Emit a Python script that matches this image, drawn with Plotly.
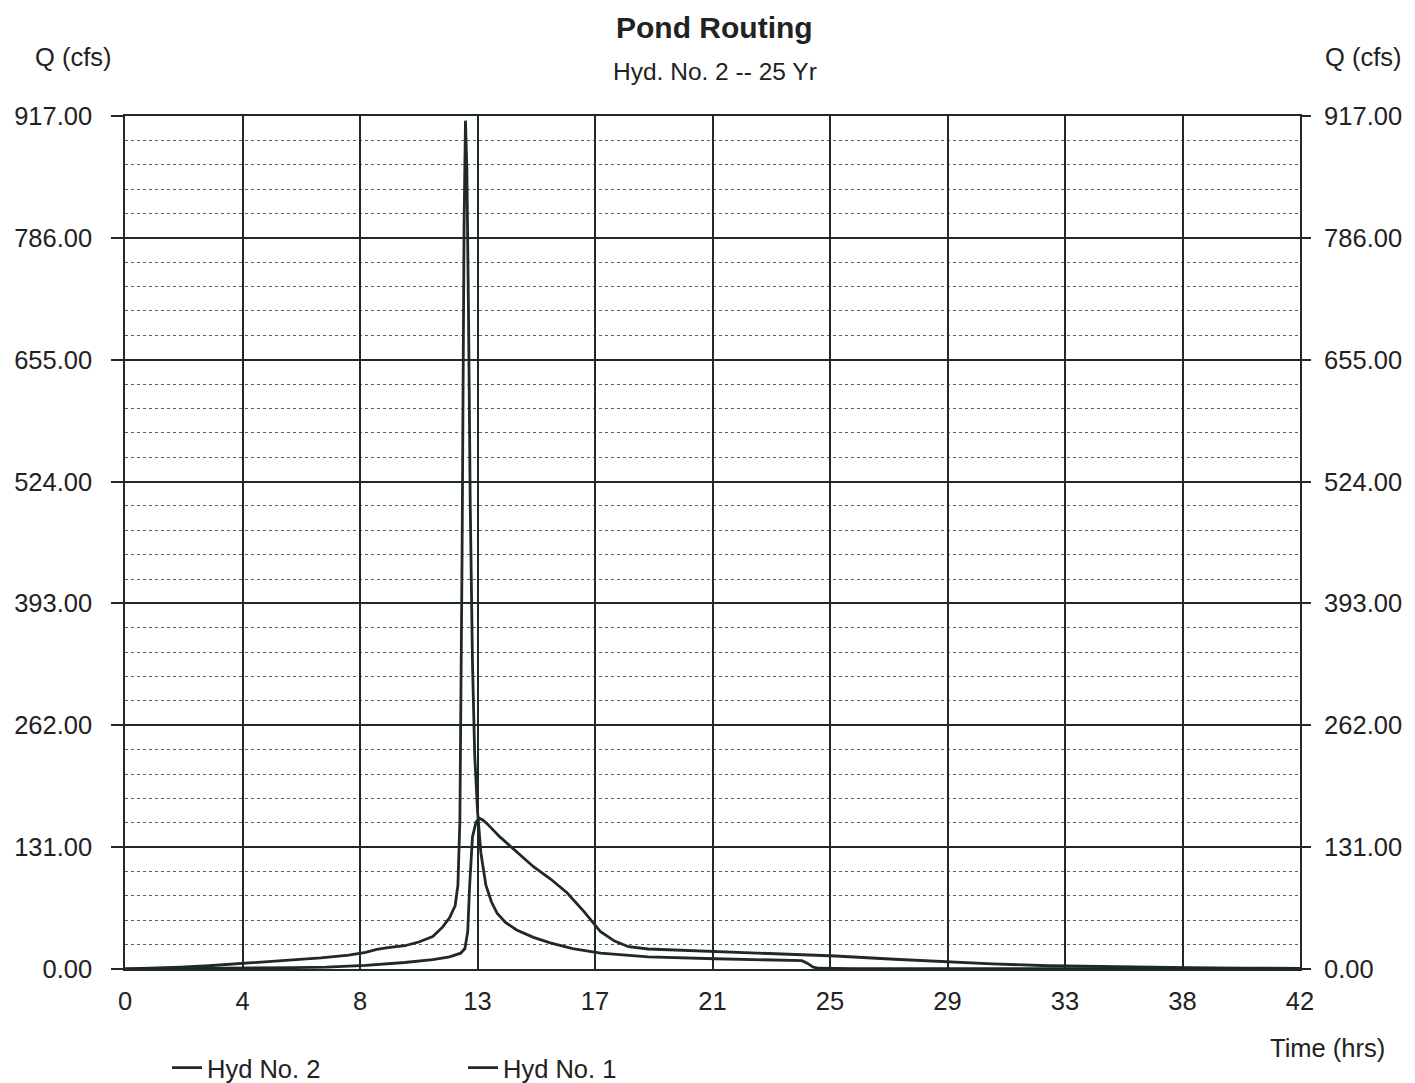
import plotly.graph_objects as go

# ---------------- data ----------------
x_tick_vals = [0, 4.2, 8.4, 12.6, 16.8, 21.0, 25.2, 29.4, 33.6, 37.8, 42.0]
x_tick_text = ["0", "4", "8", "13", "17", "21", "25", "29", "33", "38", "42"]
y_tick_vals = [0, 131, 262, 393, 524, 655, 786, 917]
y_tick_text = ["0.00", "131.00", "262.00", "393.00", "524.00", "655.00", "786.00", "917.00"]

# Hyd No. 1 (inflow)
hyd1_t = [0, 1, 2, 3, 4, 5, 6, 7, 8, 8.6, 9.0, 9.4, 10.0, 10.5, 11.0, 11.35, 11.6, 11.8,
          11.9, 11.97, 12.05, 12.12, 12.17, 12.22, 12.28, 12.34, 12.42, 12.5, 12.6, 12.72,
          12.9, 13.1, 13.3, 13.6, 14.0, 14.6, 15.2, 16.0, 17.0, 18.7, 21.1, 23.0, 24.2,
          24.4, 24.6, 24.8, 26, 30, 34, 38, 42]
hyd1_q = [0, 0.8, 2, 3.5, 5.5, 7.5, 9.5, 12, 15, 18, 21, 23, 25, 29, 35, 45, 55, 68,
          90, 160, 450, 800, 912, 860, 700, 500, 330, 230, 170, 125,
          90, 72, 60, 50, 42, 34, 28, 22, 17, 13, 11, 10, 9,
          6, 2, 0.8, 0.5, 0.4, 0.3, 0.2, 0.1]

# Hyd No. 2 (pond outflow)
hyd2_t = [0, 2, 4, 6, 7.2, 8.6, 10, 11, 11.6, 12.0, 12.15, 12.25, 12.32, 12.42, 12.55,
          12.67, 12.8, 12.95, 13.4, 14.0, 14.6, 15.2, 15.8, 16.4, 17.0, 17.5, 18.0, 18.7,
          20, 21.1, 23.5, 25.4, 27.5, 29.4, 31, 33, 35, 38, 40, 42]
hyd2_q = [0, 0.3, 0.8, 1.5, 2, 4, 7, 10, 13, 17, 22, 40, 90, 142, 158,
          162, 160, 156, 142, 126, 110, 97, 82, 62, 40, 30, 24, 21.5,
          20, 19, 16, 14, 10.5, 7.5, 5.5, 3.5, 2.5, 1.5, 1, 0.7]

# ---------------- figure ----------------
INK = "#1f2a24"
TXT = "#222222"
FONT = "Liberation Sans, Arial, sans-serif"
FS = 25.5

OFF = 8                      # page body margin of the html page
W, H = 1415 - OFF, 1083 - OFF
# target plot area in screenshot pixels
X0, X1, Y0, Y1 = 125, 1300, 116, 969
L, R, T, B = X0 - OFF, W - (X1 - OFF), Y0 - OFF, H - (Y1 - OFF)
pw, ph = X1 - X0, Y1 - Y0

def px(xs):
    return (xs - X0) / pw

def py(ys):
    return (Y1 - ys) / ph

fig = go.Figure()
fig.add_trace(go.Scatter(x=hyd2_t, y=hyd2_q, mode="lines", name="Hyd No. 2",
                         line=dict(color=INK, width=2.8)))
fig.add_trace(go.Scatter(x=hyd1_t, y=hyd1_q, mode="lines", name="Hyd No. 1",
                         line=dict(color=INK, width=2.8)))
# mirror axis on the right
fig.add_trace(go.Scatter(x=[0], y=[0], yaxis="y2", mode="markers",
                         marker=dict(opacity=0), showlegend=False, hoverinfo="skip"))

fig.update_layout(
    width=W, height=H,
    margin=dict(l=L, r=R, t=T, b=B, autoexpand=False),
    paper_bgcolor="white", plot_bgcolor="white",
    font=dict(family=FONT, size=FS, color=TXT),
    showlegend=True,
    legend=dict(orientation="h", x=px(167), y=py(1068), xanchor="left", yanchor="middle",
                font=dict(size=FS, color=TXT), entrywidth=251, entrywidthmode="pixels",
                bgcolor="rgba(0,0,0,0)"),
    xaxis=dict(range=[0, 42], tickvals=x_tick_vals, ticktext=x_tick_text,
               showgrid=True, gridcolor=INK, gridwidth=1.5,
               showline=True, linecolor=INK, linewidth=1.5, mirror=True,
               ticks="", ticklabelstandoff=9, zeroline=False,
               tickfont=dict(size=FS, color=TXT)),
    yaxis=dict(range=[0, 917], tickvals=y_tick_vals, ticktext=y_tick_text,
               showgrid=True, gridcolor=INK, gridwidth=1.5,
               showline=True, linecolor=INK, linewidth=1.5, mirror=True,
               ticks="outside", ticklen=12, tickcolor=INK, tickwidth=1.5,
               ticklabelstandoff=14, zeroline=False,
               tickfont=dict(size=FS, color=TXT),
               minor=dict(tick0=0, dtick=26.2, showgrid=True, gridcolor="#5f5f5f",
                          gridwidth=1, griddash="dot", ticks="")),
    yaxis2=dict(range=[0, 917], tickvals=y_tick_vals, ticktext=y_tick_text,
                overlaying="y", side="right", showgrid=False, zeroline=False,
                ticks="outside", ticklen=10, tickcolor=INK, tickwidth=1.5,
                ticklabelstandoff=8, showline=False,
                tickfont=dict(size=FS, color=TXT)),
    annotations=[
        dict(text="<b>Pond Routing</b>", x=px(715), y=py(27), xref="paper", yref="paper",
             showarrow=False, font=dict(size=30, color=TXT), xanchor="center", yanchor="middle"),
        dict(text="Hyd. No. 2 -- 25 Yr", x=px(715), y=py(72), xref="paper", yref="paper",
             showarrow=False, font=dict(size=24.5, color=TXT), xanchor="center", yanchor="middle"),
        dict(text="Q (cfs)", x=px(73), y=py(57), xref="paper", yref="paper",
             showarrow=False, font=dict(size=FS, color=TXT), xanchor="center", yanchor="middle"),
        dict(text="Q (cfs)", x=px(1363), y=py(57), xref="paper", yref="paper",
             showarrow=False, font=dict(size=FS, color=TXT), xanchor="center", yanchor="middle"),
        dict(text="Time (hrs)", x=px(1327), y=py(1048), xref="paper", yref="paper",
             showarrow=False, font=dict(size=FS, color=TXT), xanchor="center", yanchor="middle"),
    ],
)

fig.write_html("out.html")
